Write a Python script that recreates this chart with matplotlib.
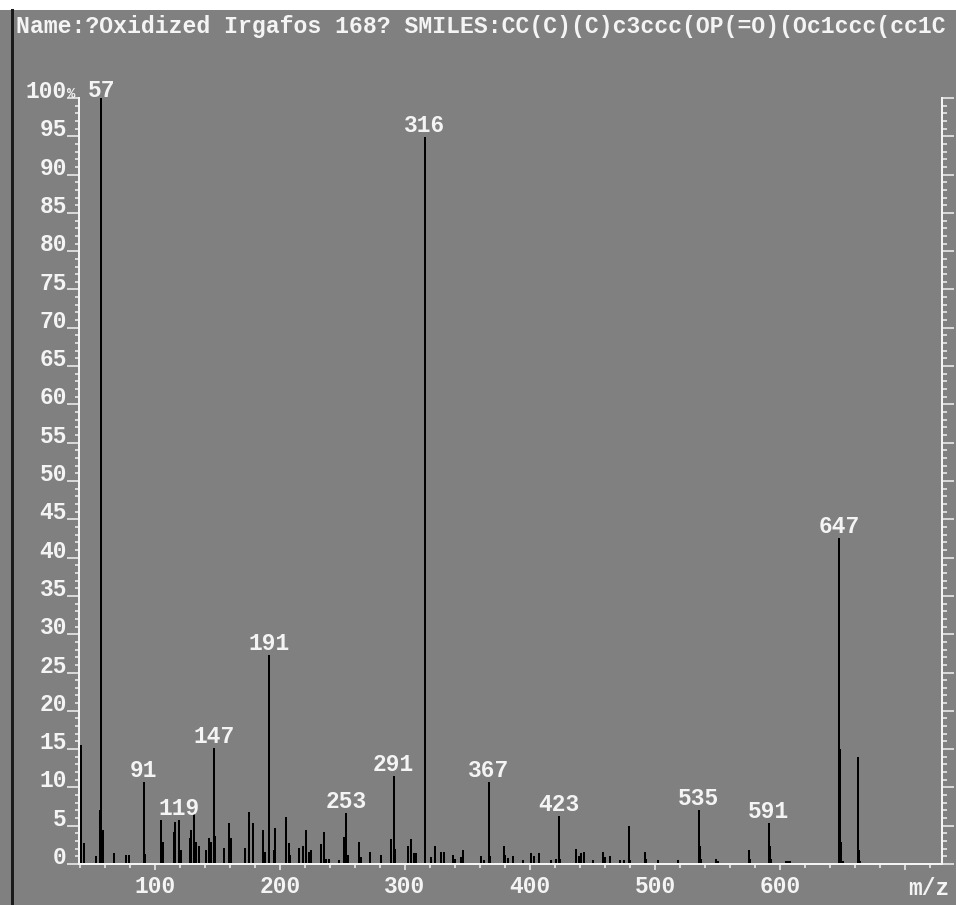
import matplotlib
matplotlib.use("Agg")
import matplotlib.pyplot as plt
from matplotlib.ticker import MultipleLocator, FixedLocator
from matplotlib.patches import Rectangle
from matplotlib.lines import Line2D

# ---------------- data ----------------
title = "Name:?Oxidized Irgafos 168? SMILES:CC(C)(C)c3ccc(OP(=O)(Oc1ccc(cc1C"

mz = [41, 43, 53, 56, 57, 58, 67, 77, 79, 91, 92, 105, 106, 115, 116, 119, 121,
      128, 129, 131, 133, 135, 141, 143, 145, 147, 148, 155, 159, 160, 161,
      172, 175, 178, 186, 188, 191, 195, 196, 205, 207, 208, 215, 218, 221, 223,
      225, 233, 235, 237, 239, 247, 251, 253, 254, 263, 264, 265, 272, 281,
      289, 291, 292, 302, 305, 307, 309, 316, 321, 324, 329, 331, 338, 340,
      345, 346, 361, 363, 367, 368, 379, 380, 382, 386, 394, 401, 403, 407,
      417, 421, 423, 424, 437, 439, 441, 443, 450, 458, 460, 464, 472, 475,
      479, 480, 492, 493, 502, 518, 535, 536, 537, 549, 550, 575, 576, 591,
      592, 593, 605, 606, 607, 608, 647, 648, 649, 650, 662, 663, 664]
intensity = [15.5, 2.7, 1.0, 7.0, 100.0, 4.4, 1.5, 1.2, 1.2, 10.7, 1.3, 5.7, 2.9, 4.2, 5.5, 5.7, 1.8,
             3.4, 4.4, 6.5, 2.9, 2.3, 1.8, 3.4, 2.9, 15.1, 3.7, 2.1, 5.3, 1.6, 3.4,
             2.1, 6.8, 5.3, 4.4, 1.6, 27.3, 1.8, 4.7, 6.2, 2.7, 1.2, 2.1, 2.3, 4.4, 1.6,
             1.8, 2.6, 4.2, 0.7, 0.7, 0.5, 3.5, 6.6, 1.2, 2.9, 0.9, 0.9, 1.6, 1.2,
             3.2, 11.5, 1.9, 2.3, 3.2, 1.4, 1.4, 94.9, 0.9, 2.3, 1.6, 1.6, 1.2, 0.7,
             0.9, 1.8, 1.0, 0.5, 10.7, 1.0, 2.3, 1.2, 0.8, 1.0, 0.5, 1.5, 1.0, 1.5,
             0.5, 0.7, 6.3, 0.7, 1.9, 1.0, 1.4, 1.6, 0.5, 1.6, 0.9, 1.0, 0.5, 0.5,
             5.0, 0.5, 1.6, 0.7, 0.5, 0.5, 7.0, 2.3, 0.7, 0.7, 0.4, 1.8, 0.7, 5.4,
             2.3, 0.6, 0.4, 0.4, 0.4, 0.4, 42.6, 15.0, 2.9, 0.4, 14.0, 1.8, 0.4]
labeled_peaks = [57, 91, 119, 147, 191, 253, 291, 316, 367, 423, 535, 591, 647]

x_major = [100, 200, 300, 400, 500, 600, 700]
x_major_labels = ["100", "200", "300", "400", "500", "600", ""]
y_major = list(range(0, 101, 5))
y_major_labels = [str(v) for v in y_major]
x_axis_label = "m/z"

# ---------------- style ----------------
W, H = 956, 905
BG = "#808080"
FG = "#f4f4f4"
FONT = "Liberation Mono"
FS = 16.5
px = 0.72  # points per pixel at dpi 100

fig = plt.figure(figsize=(W / 100, H / 100), dpi=100, facecolor=BG)

# top white strip and left dark border line
fig.add_artist(Rectangle((0, 1 - 10 / H), 1, 10 / H, transform=fig.transFigure,
                         facecolor="white", edgecolor="none"))
fig.add_artist(Line2D([11.5 / W, 11.5 / W], [0, 1 - 10 / H], transform=fig.transFigure,
                      color="#1a1a1a", linewidth=3 * px))

left, right = 79 / W, 942 / W
bottom, top = (H - 864) / H, (H - 98) / H
ax = fig.add_axes([left, bottom, right - left, top - bottom])
ax.set_facecolor(BG)

ax.vlines(mz, 0, intensity, colors="black", linewidth=2 * px, antialiased=False)

ax.set_xlim(39.2, 729.6)
ax.set_ylim(0, 100)

for s in ("left", "bottom", "right"):
    ax.spines[s].set_color(FG)
    ax.spines[s].set_linewidth(2 * px)
ax.spines["top"].set_visible(False)

ax.xaxis.set_major_locator(FixedLocator(x_major))
ax.set_xticklabels(x_major_labels)
ax.xaxis.set_minor_locator(MultipleLocator(20))
ax.yaxis.set_major_locator(FixedLocator(y_major))
ax.set_yticklabels(y_major_labels)
ax.yaxis.set_minor_locator(MultipleLocator(1))

ax.tick_params(axis="x", which="major", length=6 * px, width=1.5 * px, color=FG,
               direction="out", pad=5 * px, labelcolor=FG, labelsize=FS)
ax.tick_params(axis="x", which="minor", length=4 * px, width=1.5 * px, color=FG,
               direction="out")
ax.tick_params(axis="y", which="major", length=12 * px, width=1.5 * px, color=FG,
               direction="out", pad=0, labelcolor=FG, labelsize=FS,
               left=True, right=True)
ax.tick_params(axis="y", which="minor", length=4.5 * px, width=1.5 * px, color=FG,
               direction="out", left=True, right=True)

for t in ax.get_xticklabels() + ax.get_yticklabels():
    t.set_fontfamily(FONT)
    t.set_fontweight("bold")
for t in ax.get_yticklabels():
    t.set_verticalalignment("baseline")

# the "%" squeezed after 100
ax.text(-0.0135, 1.0, "%", transform=ax.transAxes, ha="left", va="baseline",
        fontsize=10, color=FG, fontfamily=FONT, fontweight="bold", clip_on=False)

# x axis unit label
ax.text(908 / W, (H - 895) / H, x_axis_label, transform=fig.transFigure,
        ha="left", va="baseline", fontsize=FS, color=FG, fontfamily=FONT,
        fontweight="bold")

# peak labels
peak_map = dict(zip(mz, intensity))
for m in labeled_peaks:
    off = 1 if peak_map[m] >= 99 else 5
    ax.annotate(str(m), xy=(m, peak_map[m]), xytext=(0, off * px),
                textcoords="offset points", ha="center", va="baseline",
                fontsize=FS, color=FG, fontfamily=FONT, fontweight="bold",
                annotation_clip=False)

# title line (visible part of the reference header)
fig.text(16 / W, 1 - 33 / H, title, ha="left", va="baseline", fontsize=16.7,
         color=FG, fontfamily=FONT, fontweight="bold")

fig.savefig("out.png", dpi=100, facecolor=BG)
